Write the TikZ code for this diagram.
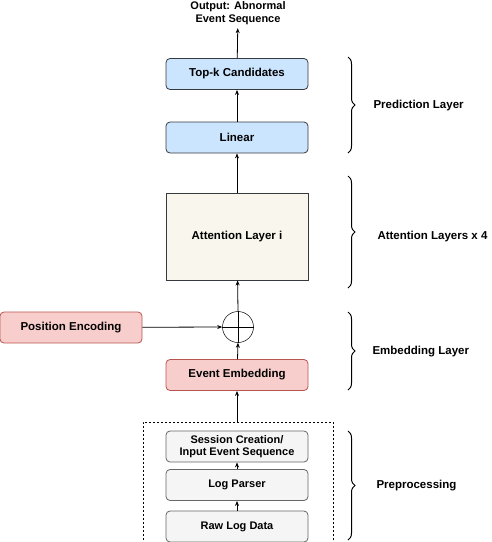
\documentclass[tikz,border=0pt]{standalone}
\usepackage{fontspec}
\setmainfont{Liberation Sans}
\usetikzlibrary{arrows.meta}
\usetikzlibrary{decorations.pathreplacing}
\definecolor{blueF}{HTML}{CCE5FF}
\definecolor{pinkF}{HTML}{F8CECC}
\definecolor{pinkD}{HTML}{B85450}
\definecolor{greyF}{HTML}{F5F5F5}
\definecolor{greyD}{HTML}{666666}
\definecolor{creamF}{HTML}{F9F7ED}
\definecolor{darkD}{HTML}{36393D}
\tikzset{
	blk/.style={rounded corners=4pt, minimum width=142pt, minimum height=31pt, inner sep=1pt, align=center, font=\fontsize{11.5}{13}\selectfont\bfseries, line width=0.8pt},
	blu/.style={blk, fill=blueF, draw=darkD},
	pnk/.style={blk, fill=pinkF, draw=pinkD},
	gry/.style={blk, fill=greyF, draw=greyD, font=\fontsize{11}{12.5}\selectfont\bfseries},
	arr/.style={-{Stealth[length=5pt,width=4pt]}, line width=0.8pt},
	brc/.style={decorate, decoration={brace, amplitude=7pt}, line width=1pt},
	lbl/.style={anchor=west, font=\fontsize{11.5}{13}\selectfont\bfseries}
}
\begin{document}
\begin{tikzpicture}[x=1pt, y=-1pt]
	\useasboundingbox (0,0) rectangle (492,542);
	\node [align=center, font=\fontsize{11}{13}\selectfont\bfseries] (out) at (238,13) {Output: Abnormal\\Event Sequence};
	\node [blu] (topk) at (237,74) {Top-k Candidates};
	\node [blu] (lin) at (237,137.5) {Linear};
	\node [blk, rounded corners=0pt, fill=creamF, draw=darkD, minimum height=87pt] (att) at (237,236.5) {Attention Layer i};
	\node [circle, draw, line width=0.5pt, minimum size=31pt, inner sep=0pt] (sum) at (238,327) {};
	\node [pnk] (pos) at (71,327.5) {Position Encoding};
	\node [pnk] (emb) at (237,375) {Event Embedding};
	\node [draw, dashed, dash pattern=on 2pt off 2pt, line width=0.8pt, minimum width=190pt, minimum height=140pt, anchor=north] (prep) at (238,422) {};
	\node [gry] (sess) at (237,446.5) {Session Creation/\\Input Event Sequence};
	\node [gry] (lp) at (237,485) {Log Parser};
	\node [gry] (raw) at (237,526.5) {Raw Log Data};
	\draw [line width=0.5pt] (sum.north) -- (sum.south) (sum.west) -- (sum.east);
	\draw [arr] (topk) -- (out);
	\draw [arr] (lin) -- (topk);
	\draw [arr] (att) -- (lin);
	\draw [arr] (sum.north) -- (att);
	\draw [arr] (emb) -- (sum.south);
	\draw [arr] (pos) -- (sum.west);
	\draw [arr] (prep.north -| emb) -- (emb);
	\draw [arr] (lp) -- (sess);
	\draw [arr] (raw) -- (lp);
	\draw [brc] (348,57) -- (348,153) coordinate [midway] (b1);
	\draw [brc] (348,176) -- (348,288) coordinate [midway] (b2);
	\draw [brc] (348,312) -- (348,390) coordinate [midway] (b3);
	\draw [brc] (348,431) -- (348,540) coordinate [midway] (b4);
	\node [lbl] (t1) at (370,106) {Prediction Layer};
	\node [lbl] (t2) at (374,237) {Attention Layers x 4};
	\node [lbl] (t3) at (369,352) {Embedding Layer};
	\node [lbl] (t4) at (373,486) {Preprocessing};
\end{tikzpicture}
\end{document}
